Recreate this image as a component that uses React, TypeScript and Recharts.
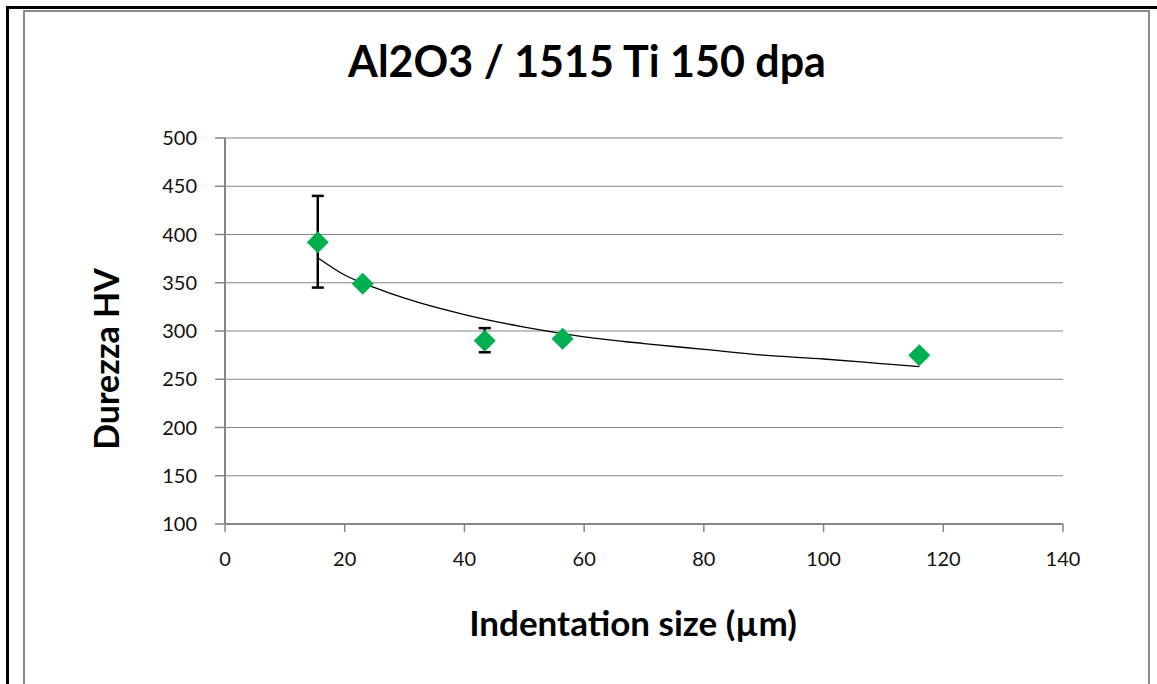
import React from "react";
import { ComposedChart, Scatter, Line, XAxis, YAxis, CartesianGrid, ErrorBar } from "recharts";

const xTicks = [0, 20, 40, 60, 80, 100, 120, 140];
const yTicks = [100, 150, 200, 250, 300, 350, 400, 450, 500];

// measured points: indentation size (µm) vs hardness HV
const sizes = [15.5, 23, 43.4, 56.4, 116];
const hardness = [392, 349, 290, 292, 275];
const errDown = [47, null, 12, null, null];
const errUp = [48, null, 13, null, null];

// power trend line
const trendX = [15.5, 20, 25, 30, 40, 50, 60, 70, 80, 90, 100, 110, 116];
const trendY = [376, 358, 345, 334, 317, 304, 294, 287, 281, 275, 271, 266, 263];

const points = sizes.map((x, i) => ({ x, y: hardness[i] }));
const errorPoints = sizes
  .map((x, i) => ({ x, y: hardness[i], err: [errDown[i], errUp[i]] }))
  .filter((p) => p.err[0] != null);
const trend = trendX.map((x, i) => ({ x, y: trendY[i] }));

const font = "Lato, 'Open Sans', sans-serif";
const grey = "#868686";

function Diamond(props: any) {
  const { cx, cy } = props;
  if (cx == null || cy == null) return null;
  const r = 11;
  return <polygon points={`${cx},${cy - r} ${cx + r},${cy} ${cx},${cy + r} ${cx - r},${cy}`} fill="#00B050" />;
}

export default function App() {
  return (
    <div style={{ position: "fixed", left: 0, top: 0, width: 1157, height: 684, background: "#fff", fontFamily: font }}>
      {/* frame */}
      <div style={{ position: "absolute", left: 6, top: 6, width: 1151, height: 678, borderTop: "3px solid #000", borderLeft: "3px solid #000", boxSizing: "border-box" }} />
      <div style={{ position: "absolute", left: 23, top: 10, width: 1127, height: 674, borderTop: "2px solid #8c8c8c", borderLeft: "2px solid #8c8c8c", borderRight: "2px solid #8c8c8c", boxSizing: "border-box" }} />

      <div style={{ position: "absolute", left: 0, width: 1174, top: 35, textAlign: "center", fontSize: 43, fontWeight: 700, color: "#000" }}>
        Al2O3 / 1515 Ti 150 dpa
      </div>
      <div style={{ position: "absolute", left: 0, width: 1266, top: 601, textAlign: "center", fontSize: 35, fontWeight: 700, color: "#000" }}>
        Indentation size (µm)
      </div>
      <div style={{ position: "absolute", left: 105, top: 359, transform: "translate(-50%, -50%) rotate(-90deg)", whiteSpace: "nowrap", fontSize: 34, fontWeight: 700, color: "#000" }}>
        Durezza HV
      </div>

      <div style={{ position: "absolute", left: 0, top: 0 }}>
        <ComposedChart width={1157} height={684} margin={{ top: 138, right: 94, bottom: 120, left: 165 }}>
          <CartesianGrid horizontal vertical={false} stroke={grey} strokeWidth={1.2} />
          <XAxis
            type="number"
            dataKey="x"
            domain={[0, 140]}
            ticks={xTicks}
            allowDataOverflow
            height={40}
            stroke={grey}
            axisLine={{ stroke: grey, strokeWidth: 2 }}
            tickLine={{ stroke: grey, strokeWidth: 1.5 }}
            tickSize={8}
            tickMargin={20}
            tick={{ fill: "#111", fontSize: 20, fontFamily: font }}
          />
          <YAxis
            type="number"
            dataKey="y"
            domain={[100, 500]}
            ticks={yTicks}
            allowDataOverflow
            width={60}
            stroke={grey}
            axisLine={{ stroke: grey, strokeWidth: 2 }}
            tickLine={{ stroke: grey, strokeWidth: 1.5 }}
            tickSize={10}
            tickMargin={18}
            tick={{ fill: "#111", fontSize: 20, fontFamily: font }}
          />
          <Scatter data={errorPoints} dataKey="y" shape={() => null} isAnimationActive={false}>
            <ErrorBar dataKey="err" direction="y" width={6} stroke="#000" strokeWidth={2.5} isAnimationActive={false} />
          </Scatter>
          <Line data={trend} dataKey="y" type="monotone" stroke="#000" strokeWidth={1.3} dot={false} activeDot={false} isAnimationActive={false} />
          <Scatter data={points} dataKey="y" shape={<Diamond />} isAnimationActive={false} />
        </ComposedChart>
      </div>
    </div>
  );
}
